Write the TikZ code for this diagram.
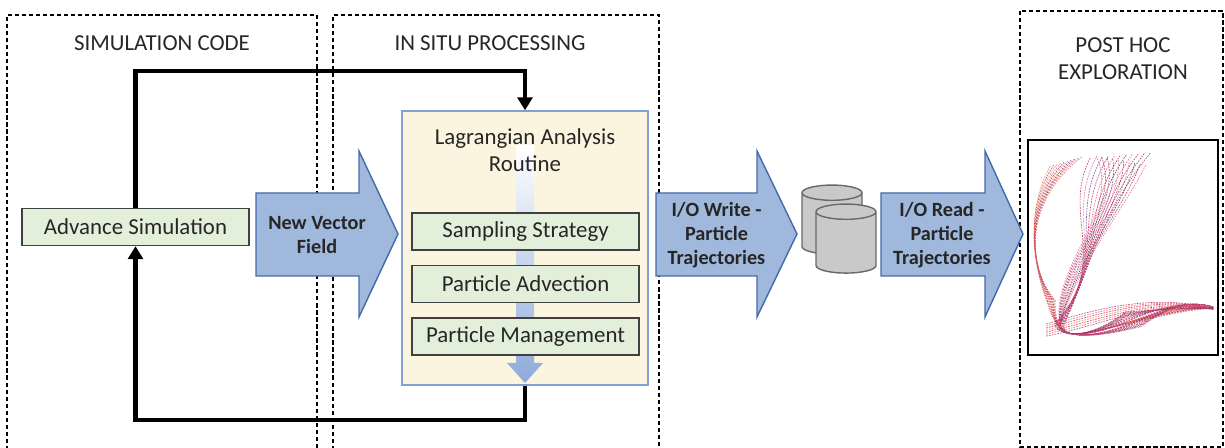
\documentclass[tikz,border=0pt]{standalone}
\usepackage{fontspec}
\setmainfont{Carlito}
\usetikzlibrary{arrows.meta,shapes.geometric,positioning}

\definecolor{inkgray}{RGB}{38,38,38}
\definecolor{arrowfill}{RGB}{160,184,220}
\definecolor{arrowline}{RGB}{66,106,172}
\definecolor{greenfill}{RGB}{226,239,218}
\definecolor{greenline}{RGB}{64,64,64}
\definecolor{lagfill}{RGB}{251,245,224}
\definecolor{lagline}{RGB}{127,160,208}
\definecolor{flowblue}{RGB}{142,170,219}
\definecolor{diskfill}{RGB}{201,201,201}
\definecolor{diskline}{RGB}{105,105,105}
\definecolor{trajA}{RGB}{196,36,80}
\definecolor{trajB}{RGB}{222,100,140}
\definecolor{trajC}{RGB}{236,132,58}
\definecolor{trajD}{RGB}{112,62,152}
\definecolor{trajE}{RGB}{60,60,80}

\tikzset{
  frame/.style={draw=black,line width=0.6pt,dash pattern=on 2.4pt off 1.6pt},
  coltitle/.style={text=inkgray,font=\fontsize{13}{15.5}\selectfont,align=center},
  greenbox/.style={draw=greenline,fill=greenfill,line width=0.8pt,minimum width=4.54cm,
    minimum height=0.74cm,inner sep=0pt,text=inkgray,font=\fontsize{13}{15.5}\selectfont},
  lagbox/.style={draw=lagline,fill=lagfill,line width=0.8pt,minimum width=4.92cm,minimum height=5.48cm},
  fatarrow/.style={draw=arrowline,fill=arrowfill,line width=0.8pt},
  arrowtext/.style={text=inkgray,font=\bfseries\fontsize{11.5}{13.8}\selectfont,align=center},
  flowarrow/.style={top color=white,middle color=flowblue!75!white,bottom color=flowblue},
  loopline/.style={draw=black,line width=2.3pt,-{Triangle[length=0.26cm,width=0.3cm]}},
  disk/.style={cylinder,shape border rotate=90,aspect=1.3,draw=diskline,fill=diskfill,
    line width=0.8pt,minimum width=1.2cm,minimum height=1.38cm},
  traj/.style={line width=0.35pt,dash pattern=on 1pt off 0.6pt,opacity=0.85}
}

% block arrow: name, left end, start of head, tip, label
\newcommand{\fatarrow}[5]{%
  \filldraw[fatarrow] (#2,-3.86) -- (#3,-3.86) -- (#3,-3.02) -- (#4,-4.68)
    -- (#3,-6.34) -- (#3,-5.52) -- (#2,-5.52) -- cycle;
  \node[arrowtext] (#1) at ({(#2+#4)/2-0.2},-4.70) {#5};}

\begin{document}
\begin{tikzpicture}
    \useasboundingbox (0,0) rectangle (24.5,-8.96);

    % columns
    \draw[frame] (0.14,-9.0) |- (6.34,-0.30) -- (6.34,-9.0);
    \draw[frame] (6.66,-9.0) |- (13.18,-0.30) -- (13.18,-9.0);
    \draw[frame] (20.40,-0.22) rectangle (24.46,-8.94);

    \node[coltitle] (simtitle) at (3.24,-0.86) {SIMULATION CODE};
    \node[coltitle] (insitutitle) at (9.80,-0.86) {IN SITU PROCESSING};
    \node[coltitle] (posttitle) at (22.46,-1.17) {POST HOC\\EXPLORATION};

    \coordinate (sim) at (2.71,-4.54);
    \coordinate (routine) at (10.50,-4.96);

    \node[greenbox] (adv) at (sim) {Advance Simulation};

    % Lagrangian routine
    \node[lagbox] (lagr) at (routine) {};
    \shade[flowarrow] (10.32,-2.90) -- (10.68,-2.90) -- (10.68,-7.26) -- (10.86,-7.26)
        -- (10.50,-7.66) -- (10.14,-7.26) -- (10.32,-7.26) -- cycle;
    \node[coltitle] (lagtitle) at (10.50,-3.0) {Lagrangian Analysis\\Routine};
    \node[greenbox] (samp) at (10.51,-4.63) {Sampling Strategy};
    \node[greenbox,below=0.28cm of samp] (advect) {Particle Advection};
    \node[greenbox,below=0.28cm of advect] (manage) {Particle Management};

    % block arrows
    \fatarrow{newfield}{5.12}{7.18}{7.96}{New Vector\\Field}
    \fatarrow{iowrite}{13.12}{15.14}{15.94}{I/O Write -\\Particle\\Trajectories}
    \fatarrow{ioread}{17.62}{19.70}{20.46}{I/O Read -\\Particle\\Trajectories}

    % storage
    \node[disk] (disk1) at (16.64,-4.52) {};
    \node[disk] (disk2) at (16.92,-4.90) {};

    % simulation loop
    \coordinate (looptop) at (10.50,-1.42);
    \coordinate (loopbot) at (10.50,-8.40);
    \draw[loopline] (adv.north) |- (looptop) -- (lagr.north);
    \draw[loopline] (lagr.south) -- (loopbot) -| (adv.south);

    % trajectories
    \node[draw,line width=0.8pt,fill=white,minimum width=3.8cm,minimum height=4.3cm] (plot) at (22.46,-4.95) {};
    \begin{scope}[x=0.02cm,y=-0.02cm]
        \clip (plot.south west) rectangle (plot.north east);
        % left plume
        \foreach \i/\col in {0/trajC,1/trajA,2/trajC,3/trajB,4/trajA,5/trajC,6/trajD,7/trajA,8/trajC,9/trajB}
            \draw[traj,\col] (1050+3.5*\i,166-\i) .. controls (1028-\i,205) and (1030,255+2*\i) .. (1046+\i,300)
                .. controls (1054,325) and (1062,338) .. (1085,333) .. controls (1130,325) and (1170,302+\i) .. (1213,308);
        % braid, one way
        \foreach \i/\col in {0/trajA,1/trajB,2/trajD,3/trajA,4/trajB,5/trajA,6/trajE,7/trajB,8/trajA,9/trajD,10/trajA}
            \draw[traj,\col] (1090+6*\i,158-0.5*\i) .. controls (1060+4*\i,215) and (1112-2*\i,262) .. (1054+\i,324)
                .. controls (1060,340) and (1095,336) .. (1125,322-\i) .. controls (1155,310) and (1182,298+\i) .. (1213,309);
        % braid, other way
        \foreach \i/\col in {0/trajB,1/trajA,2/trajA,3/trajD,4/trajB,5/trajA,6/trajB,7/trajE,8/trajA,9/trajB}
            \draw[traj,\col] (1096+5.5*\i,156+\i) .. controls (1122,212) and (1048+3*\i,268) .. (1060,326)
                .. controls (1068,342) and (1110,334) .. (1140,318+\i) .. controls (1170,306) and (1190,300) .. (1213,307);
        % lower arm
        \foreach \i/\col in {0/trajA,1/trajB,2/trajA,3/trajC,4/trajA,5/trajB,6/trajA}
            \draw[traj,\col] (1046,336-2*\i) .. controls (1100,326-3*\i) and (1150,300-\i) .. (1213,308);
    \end{scope}
\end{tikzpicture}
\end{document}
